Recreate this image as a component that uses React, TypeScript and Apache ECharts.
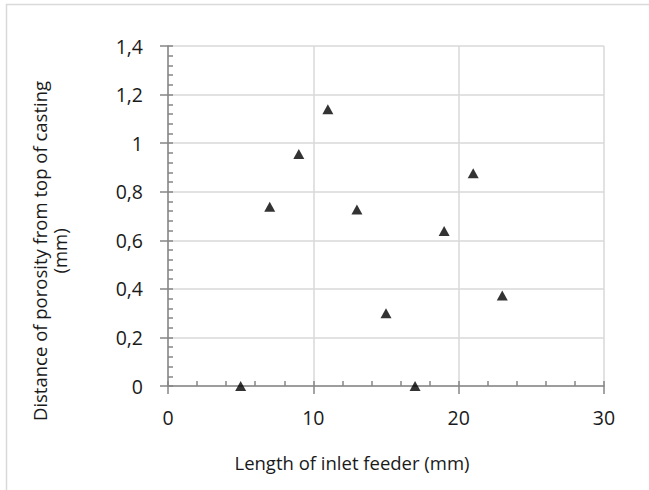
import React, { useEffect, useRef } from "react";
import * as echarts from "echarts";

const feederLength = [5, 7, 9, 11, 13, 15, 17, 19, 21, 23];
const porosityDistance = [0, 0.738, 0.955, 1.14, 0.727, 0.3, 0, 0.638, 0.876, 0.373];
const xTicks = { min: 0, max: 30, interval: 10 };
const yTicks = { min: 0, max: 1.4, interval: 0.2 };
const xTitle = "Length of inlet feeder (mm)";
const yTitleLines = ["Distance of porosity from top of casting", "(mm)"];

const FONT = "'Open Sans', 'Noto Sans', sans-serif";
const AXIS_COLOR = "#868686";
const GRID_COLOR = "#d9d9d9";
const TEXT_COLOR = "#1a1a1a";

export default function App() {
  const ref = useRef<HTMLDivElement>(null);
  useEffect(() => {
    if (!ref.current) return;
    const chart = echarts.init(ref.current, null, { renderer: "svg" });
    const points = feederLength.map((x, i) => [x, porosityDistance[i]]);
    chart.setOption({
      animation: false,
      backgroundColor: "#ffffff",
      grid: { left: 168, right: 45, top: 46, bottom: 104, containLabel: false },
      xAxis: [
        {
          type: "value",
          position: "bottom",
          min: xTicks.min,
          max: xTicks.max,
          interval: xTicks.interval,
          axisLine: { show: true, lineStyle: { color: AXIS_COLOR, width: 1.5 } },
          axisTick: { show: true, inside: true, length: 5, lineStyle: { color: AXIS_COLOR, width: 1.5 } },
          minorTick: { show: true, splitNumber: 5, length: 5, lineStyle: { color: AXIS_COLOR, width: 1.5 } },
          axisLabel: {
            show: true,
            margin: 21,
            color: TEXT_COLOR,
            fontFamily: FONT,
            fontSize: 19.5,
          },
          splitLine: { show: true, lineStyle: { color: GRID_COLOR, width: 1.5 } },
          minorSplitLine: { show: false },
        },
        {
          type: "value",
          position: "bottom",
          min: xTicks.min,
          max: xTicks.max,
          interval: xTicks.interval,
          axisLine: { show: false },
          axisTick: { show: true, inside: false, length: 8, lineStyle: { color: AXIS_COLOR, width: 1.5 } },
          axisLabel: { show: false },
          splitLine: { show: false },
        },
      ],
      yAxis: [
        {
          type: "value",
          position: "left",
          min: yTicks.min,
          max: yTicks.max,
          interval: yTicks.interval,
          axisLine: { show: true, lineStyle: { color: AXIS_COLOR, width: 1.5 } },
          axisTick: { show: true, inside: true, length: 5, lineStyle: { color: AXIS_COLOR, width: 1.5 } },
          minorTick: { show: true, splitNumber: 5, length: 5, lineStyle: { color: AXIS_COLOR, width: 1.5 } },
          axisLabel: {
            show: true,
            margin: 25,
            color: TEXT_COLOR,
            fontFamily: FONT,
            fontSize: 19.5,
            formatter: (v: number) => String(Math.round(v * 10) / 10).replace(".", ","),
          },
          splitLine: { show: true, lineStyle: { color: GRID_COLOR, width: 1.5 } },
          minorSplitLine: { show: false },
        },
        {
          type: "value",
          position: "left",
          min: yTicks.min,
          max: yTicks.max,
          interval: yTicks.interval,
          axisLine: { show: false },
          axisTick: { show: true, inside: false, length: 8, lineStyle: { color: AXIS_COLOR, width: 1.5 } },
          axisLabel: { show: false },
          splitLine: { show: false },
        },
      ],
      graphic: [
        {
          type: "rect",
          silent: true,
          shape: { x: 6.5, y: 4.5, width: 700, height: 600 },
          style: { fill: "none", stroke: GRID_COLOR, lineWidth: 1.5 },
          z: -1,
        },
        {
          type: "text",
          x: 352,
          y: 462,
          style: {
            text: xTitle,
            fontFamily: FONT,
            fontSize: 18.5,
            fill: TEXT_COLOR,
            textAlign: "center",
            textVerticalAlign: "middle",
          },
        },
        {
          type: "text",
          x: 49,
          y: 251,
          rotation: Math.PI / 2,
          style: {
            text: yTitleLines.join("\n"),
            fontFamily: FONT,
            fontSize: 18.5,
            lineHeight: 20,
            fill: TEXT_COLOR,
            textAlign: "center",
            textVerticalAlign: "middle",
          },
        },
      ],
      series: [
        {
          type: "scatter",
          xAxisIndex: 0,
          yAxisIndex: 0,
          data: points,
          symbol: "triangle",
          symbolSize: [11, 10],
          itemStyle: { color: "#000000" },
          z: 5,
        },
      ],
    });
    return () => chart.dispose();
  }, []);
  return (
    <div
      ref={ref}
      style={{ position: "fixed", left: 0, top: 0, width: 649, height: 490 }}
    />
  );
}
